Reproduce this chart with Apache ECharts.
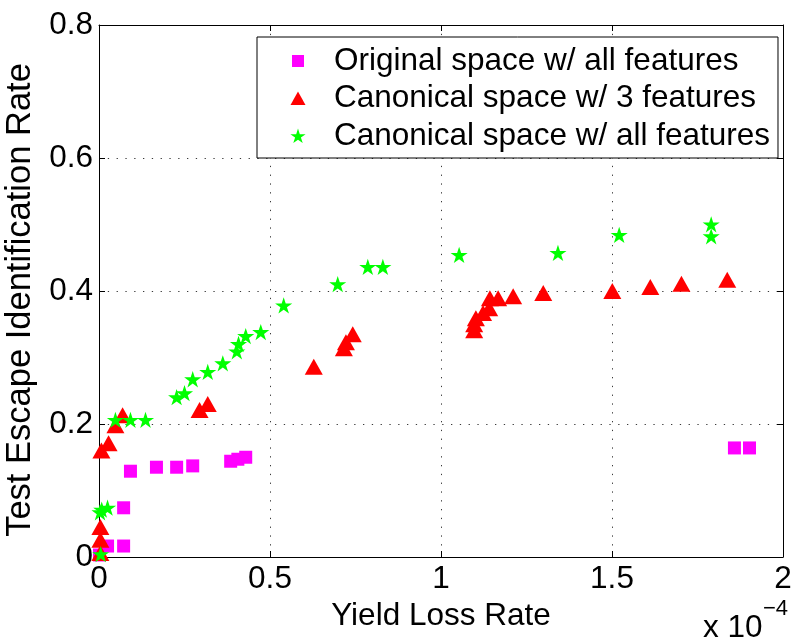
<!DOCTYPE html>
<html>
<head>
<meta charset="utf-8">
<script src="https://cdn.jsdelivr.net/npm/echarts@6/dist/echarts.min.js"></script>
<style>
  html, body { margin: 0; padding: 0; background: #fff; }
  #chart { width: 794px; height: 639px; }
</style>
</head>
<body>
<div id="chart"></div>
<script>
// Yield loss rate is given in units of 1e-4 (see the multiplier under the x axis).
const seriesNames = [
  'Original space w/ all features',
  'Canonical space w/ 3 features',
  'Canonical space w/ all features'
];

// [yield loss rate (x1e-4), test escape identification rate]
const originalAllFeatures = [
  [0.0015, 0.003], [0.025, 0.0165], [0.072, 0.0165], [0.072, 0.074],
  [0.092, 0.129], [0.168, 0.135], [0.227, 0.135], [0.274, 0.137],
  [0.385, 0.144], [0.406, 0.147], [0.429, 0.150],
  [1.858, 0.164], [1.902, 0.164]
];

const canonical3Features = [
  [0.004, 0.006], [0.004, 0.026], [0.004, 0.045], [0.007, 0.160],
  [0.028, 0.171], [0.048, 0.198], [0.069, 0.213], [0.294, 0.221],
  [0.318, 0.230], [0.628, 0.286], [0.716, 0.314], [0.722, 0.323],
  [0.742, 0.335], [1.097, 0.341], [1.097, 0.350], [1.102, 0.359],
  [1.123, 0.367], [1.141, 0.374], [1.143, 0.389], [1.167, 0.389],
  [1.211, 0.392], [1.299, 0.397], [1.501, 0.400], [1.612, 0.406],
  [1.703, 0.411], [1.837, 0.417]
];

const canonicalAllFeatures = [
  [0.005, 0.003], [0.003, 0.066], [0.008, 0.070], [0.025, 0.073],
  [0.048, 0.205], [0.092, 0.205], [0.136, 0.205], [0.227, 0.239],
  [0.250, 0.245], [0.274, 0.266], [0.318, 0.277], [0.362, 0.290],
  [0.403, 0.308], [0.408, 0.319], [0.429, 0.331], [0.473, 0.337],
  [0.540, 0.377], [0.698, 0.409], [0.786, 0.435], [0.830, 0.435],
  [1.053, 0.453], [1.342, 0.456], [1.521, 0.483], [1.790, 0.481],
  [1.790, 0.499]
];

const xTicks = [0, 0.5, 1, 1.5, 2];
const yTicks = [0, 0.2, 0.4, 0.6, 0.8];

const FONT = "'Liberation Sans', Arial, Helvetica, sans-serif";
const BLACK = '#000';

// Five-pointed star; the extra move-to keeps the star's centre at the symbol centre.
const STAR = 'path://M100,200M100,0L122.45,69.1L195.1,69.1L136.3,111.8L158.8,180.9L100,138.2L41.2,180.9L63.7,111.8L4.9,69.1L77.55,69.1Z';

// Legend icons share a 62x16 box so that each marker sits centred in it.
const LEGEND_SQUARE = 'path://M0,0M62,16M25,2L37,2L37,14L25,14Z';
const LEGEND_TRIANGLE = 'path://M0,0M62,16M31,1L38.5,14.5L23.5,14.5Z';
const LEGEND_STAR = 'path://M0,0M62,16M31,0.6L32.8,6.13L38.61,6.13L33.9,9.54L35.7,15.07L31,11.66L26.3,15.07L28.1,9.54L23.39,6.13L29.2,6.13Z';

function step(ticks) { return ticks[1] - ticks[0]; }

function boxAxis(ticks, position, extra) {
  return Object.assign({
    type: 'value',
    position: position,
    min: ticks[0],
    max: ticks[ticks.length - 1],
    interval: step(ticks),
    axisLine: { show: true, onZero: false, lineStyle: { color: BLACK, width: 1 } },
    axisTick: { show: true, inside: true, length: 6, lineStyle: { color: BLACK, width: 1 } },
    axisLabel: { show: false },
    splitLine: { show: false },
    minorTick: { show: false }
  }, extra || {});
}

const gridLine = { show: true, lineStyle: { color: '#3a3a3a', width: 1, type: [1.3, 7.5] } };

const chart = echarts.init(document.getElementById('chart'), null, { renderer: 'canvas' });

chart.setOption({
  backgroundColor: '#fff',
  animation: false,
  grid: {
    left: 99, right: 11, top: 25, bottom: 82,
    containLabel: false,
    outerBoundsMode: 'none'
  },
  xAxis: [
    boxAxis(xTicks, 'bottom', {
      axisLabel: { show: true, color: BLACK, fontSize: 31.5, fontFamily: FONT, margin: 6 },
      splitLine: gridLine,
      name: 'Yield Loss Rate',
      nameLocation: 'middle',
      nameGap: 33,
      nameTextStyle: { color: BLACK, fontSize: 31.5, fontFamily: FONT }
    }),
    boxAxis(xTicks, 'top')
  ],
  yAxis: [
    boxAxis(yTicks, 'left', {
      axisLabel: { show: true, color: BLACK, fontSize: 31.5, fontFamily: FONT, margin: 6 },
      splitLine: gridLine,
      name: 'Test Escape Identification Rate',
      nameLocation: 'middle',
      nameGap: 51,
      nameTextStyle: { color: BLACK, fontSize: 34.5, fontFamily: FONT, padding: [0, 18, 0, 0] }
    }),
    boxAxis(yTicks, 'right')
  ],
  legend: {
    orient: 'vertical',
    left: 257,
    top: 37,
    padding: [8, 8, 6, 10],
    itemGap: 5.5,
    itemWidth: 62,
    itemHeight: 16,
    backgroundColor: '#fff',
    borderColor: BLACK,
    borderWidth: 1,
    borderRadius: 0,
    selectedMode: false,
    textStyle: { color: BLACK, fontSize: 31.5, fontFamily: FONT },
    data: [
      { name: seriesNames[0], icon: LEGEND_SQUARE },
      { name: seriesNames[1], icon: LEGEND_TRIANGLE },
      { name: seriesNames[2], icon: LEGEND_STAR }
    ]
  },
  graphic: [
    {
      type: 'text', left: 703, top: 612,
      style: { text: 'x 10', fill: BLACK, font: '31.5px ' + FONT }
    },
    {
      type: 'text', left: 763, top: 598,
      style: { text: '\u22124', fill: BLACK, font: '22px ' + FONT }
    }
  ],
  series: [
    {
      name: seriesNames[0], type: 'scatter', data: originalAllFeatures,
      symbol: 'rect', symbolSize: 13, clip: false,
      itemStyle: { color: '#ff00ff', opacity: 1 }
    },
    {
      name: seriesNames[1], type: 'scatter', data: canonical3Features,
      symbol: 'triangle', symbolSize: [18, 16], clip: false,
      itemStyle: { color: '#ff0000', opacity: 1 }
    },
    {
      name: seriesNames[2], type: 'scatter', data: canonicalAllFeatures,
      symbol: STAR, symbolSize: 18, symbolKeepAspect: true, clip: false,
      itemStyle: { color: '#00ff00', opacity: 1 }
    }
  ]
});
</script>
</body>
</html>
